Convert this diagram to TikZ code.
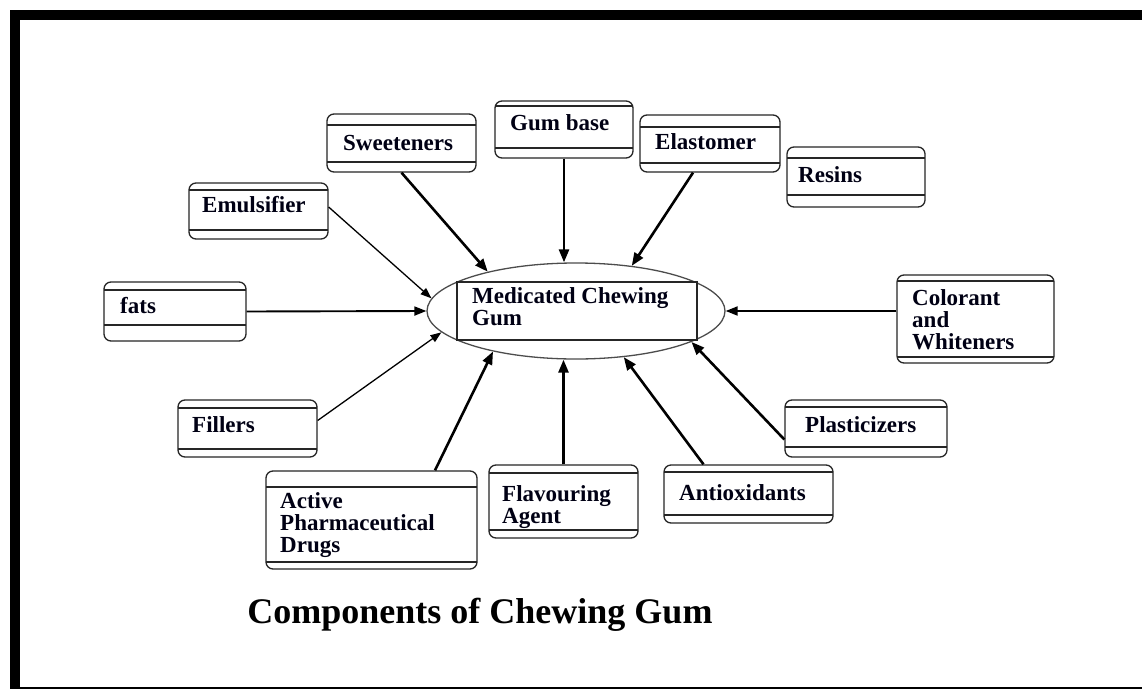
\documentclass[tikz,border=0pt]{standalone}
\usepackage{fontspec}
\setmainfont{Liberation Serif}
\usetikzlibrary{arrows.meta,shapes.geometric}
\tikzset{
  gbox/.style 2 args={draw=black!85, line width=1.3pt, rounded corners=7pt, inner sep=0pt,
    path picture={
      \draw[black!85, line width=1.3pt]
        ([yshift=-#1pt]path picture bounding box.north west) -- ([yshift=-#1pt]path picture bounding box.north east)
        ([yshift=#2pt]path picture bounding box.south west) -- ([yshift=#2pt]path picture bounding box.south east);
    }},
  lbl/.style={font=\fontsize{23}{22}\selectfont\bfseries, inner sep=0pt, anchor=base west, align=left, text=black!92!blue},
  arr/.style={-{Triangle[length=13pt,width=10pt]}, line width=2.6pt},
  arrmid/.style={-{Triangle[length=12pt,width=9pt]}, line width=1.9pt},
  arrthin/.style={-{Triangle[length=11pt,width=8pt]}, line width=1.3pt},
}
\begin{document}
\begin{tikzpicture}[x=1pt,y=-1pt]
\useasboundingbox (0,0) rectangle (1142,688);
\clip (0,0) rectangle (1142,688);
\fill[white] (0,0) rectangle (1142,688);
\draw[line width=10pt] (15,15) rectangle (1160,692);

% central ellipse
\node[draw=black!70, line width=1.3pt, ellipse, minimum width=298pt, minimum height=96pt, inner sep=0pt] (ell) at (576,311) {};
\node[draw=black!85, line width=1.3pt, minimum width=240pt, minimum height=58pt, inner sep=0pt, fill=white] (mcg) at (577,311) {};
\node[lbl] (mcgT) at (472,325) {Medicated Chewing\\Gum};

% boxes
\node[gbox={11}{10}, minimum width=149pt, minimum height=58pt] (sweet) at (401.5,143) {};
\node[lbl] (sweetT) at (343,150) {Sweeteners};
\node[gbox={5}{10}, minimum width=138pt, minimum height=57pt] (gum) at (564,129.5) {};
\node[lbl] (gumT) at (510,130) {Gum base};
\node[gbox={12}{9}, minimum width=140pt, minimum height=57pt] (elast) at (710,143.5) {};
\node[lbl] (elastT) at (655,149) {Elastomer};
\node[gbox={11}{12}, minimum width=138pt, minimum height=60pt] (resins) at (856,177) {};
\node[lbl] (resinsT) at (798,182) {Resins};
\node[gbox={7}{9}, minimum width=139pt, minimum height=56pt] (emul) at (258.5,211) {};
\node[lbl] (emulT) at (202,212) {Emulsifier};
\node[gbox={8}{16}, minimum width=142pt, minimum height=59pt] (fats) at (175,311.5) {};
\node[lbl] (fatsT) at (120,313) {fats};
\node[gbox={6}{6}, minimum width=157pt, minimum height=88pt] (col) at (975.5,319) {};
\node[lbl] (colT) at (912,349) {Colorant\\and\\Whiteners};
\node[gbox={7}{10}, minimum width=162pt, minimum height=57pt] (plast) at (866,428.5) {};
\node[lbl] (plastT) at (805,432) {Plasticizers};
\node[gbox={8}{8}, minimum width=139pt, minimum height=57pt] (fill) at (247.5,428.5) {};
\node[lbl] (fillT) at (192,432) {Fillers};
\node[gbox={16}{7}, minimum width=211pt, minimum height=98pt] (act) at (371.5,520) {};
\node[lbl] (actT) at (280,552) {Active\\Pharmaceutical\\Drugs};
\node[gbox={8}{8}, minimum width=149pt, minimum height=73pt] (flav) at (563.5,501.5) {};
\node[lbl] (flavT) at (502,523) {Flavouring\\Agent};
\node[gbox={7}{8}, minimum width=169pt, minimum height=58pt] (anti) at (748.5,494) {};
\node[lbl] (antiT) at (679,500) {Antioxidants};

% connectors
\draw[arr] (sweet.south) -- (ell.156.6);
\draw[arr] (gum.south) -- (gum.south |- ell.north);
\draw[arr] ([xshift=-17pt]elast.south) -- (ell.39);
\draw[arrthin] ([yshift=4pt]emul.east) -- (ell.175.8);
\draw[arrmid] (fats.east) -- (ell.west);
\draw[arrthin] ([yshift=8pt]fill.east) -- (ell.189.5);
\draw[arr] ([xshift=63.5pt]act.north) -- (ell.206.6);
\draw[arr] (flav.north) -- (flav.north |- ell.south);
\draw[arr] ([xshift=-45pt]anti.north) -- (ell.316);
\draw[arr] ([yshift=-11pt]plast.west) -- (ell.345.6);
\draw[arrmid] (ell.east -| col.west) -- (ell.east);

% title
\node[font=\fontsize{36}{40}\selectfont\bfseries, anchor=base, inner sep=0pt] (title) at (480,623) {Components of Chewing Gum};
\end{tikzpicture}
\end{document}
